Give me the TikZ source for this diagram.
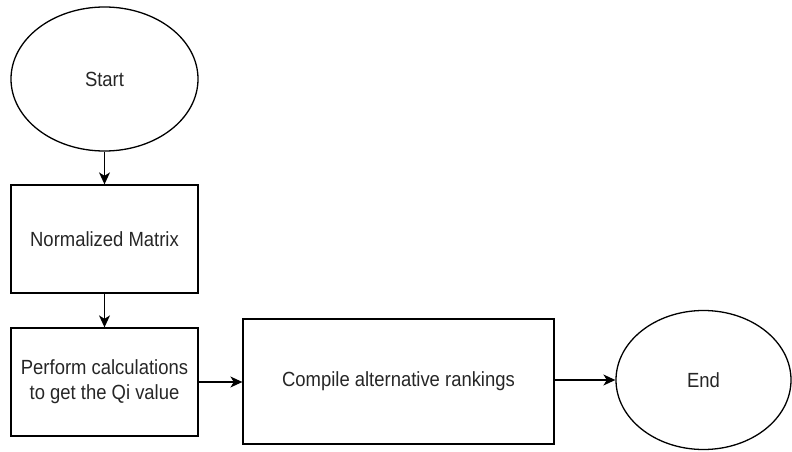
\documentclass[tikz,border=0pt]{standalone}
\usepackage{fontspec}
\setmainfont{Liberation Sans}[FakeStretch=0.9]
\usetikzlibrary{shapes.geometric,arrows.meta}
\begin{document}
\begin{tikzpicture}[x=1pt,y=-1pt,
  every node/.style={font=\fontsize{20.5}{25}\selectfont, text=black!85, inner sep=0pt, align=center},
  terminal/.style={ellipse, draw, line width=1.3pt},
  stepbox/.style={rectangle, draw, line width=1.3pt},
  flow/.style={line width=1.3pt, -{Stealth[length=12pt,width=11pt,inset=3.5pt]}}]
\useasboundingbox (0,0) rectangle (792,452);
\node[terminal, minimum width=187pt, minimum height=144pt] (start) at (104.5,79) {Start};
\node[stepbox, minimum width=187pt, minimum height=108pt] (norm) at (104.5,239) {Normalized Matrix};
\node[stepbox, minimum width=187pt, minimum height=108pt] (perf) at (104.5,382) {Perform calculations\\to get the Qi value};
\node[stepbox, minimum width=311pt, minimum height=125pt] (comp) at (398.5,381.5) {Compile alternative rankings};
\node[terminal, minimum width=175pt, minimum height=139pt] (end) at (703.5,380) {End};
\draw[flow] (start) -- (norm);
\draw[flow] (norm) -- (perf);
\draw[flow] (perf.east) -- (perf.east -| comp.west);
\draw[flow] (comp.east |- end.west) -- (end.west);
\end{tikzpicture}
\end{document}
